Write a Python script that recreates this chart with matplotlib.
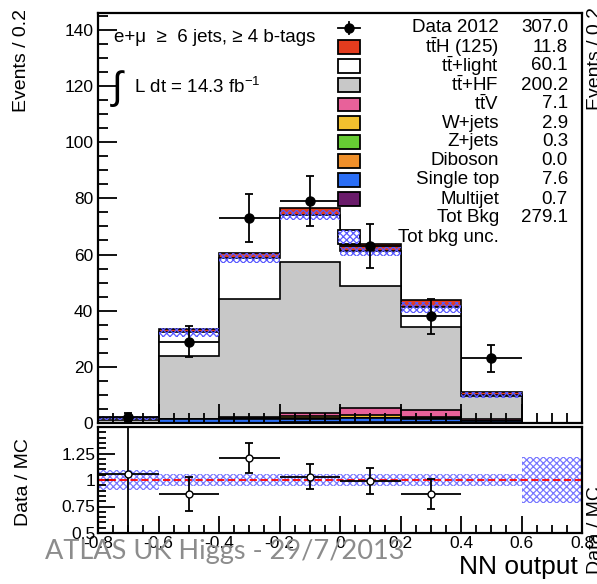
import numpy as np
import matplotlib
matplotlib.use("Agg")
import matplotlib.pyplot as plt
from matplotlib.patches import Rectangle
from matplotlib.ticker import MultipleLocator

plt.rcParams['font.family'] = ['Liberation Sans', 'DejaVu Sans']
plt.rcParams['mathtext.fontset'] = 'custom'
plt.rcParams['mathtext.rm'] = 'Liberation Sans'
plt.rcParams['mathtext.it'] = 'Liberation Sans:italic'
plt.rcParams['hatch.linewidth'] = 0.9

# NN output binning (8 bins of 0.2)
edges = np.array([-0.8, -0.6, -0.4, -0.2, 0.0, 0.2, 0.4, 0.6, 0.8])
centers = 0.5 * (edges[:-1] + edges[1:])

# observed events and their errors
data = np.array([2, 29, 73, 79, 63, 38, 23, 0])
data_err = np.array([1.4, 5.4, 8.5, 8.9, 7.9, 6.2, 4.8, 0.0])

# expected events per process
multijet = np.array([0.0, 0.0, 0.0, 0.2, 0.3, 0.2, 0.0, 0.0])
single_top = np.array([0.0, 1.4, 1.4, 1.4, 1.4, 1.4, 0.6, 0.0])
diboson = np.array([0.0, 0.0, 0.0, 0.0, 0.0, 0.0, 0.0, 0.0])
zjets = np.array([0.0, 0.0, 0.0, 0.1, 0.1, 0.1, 0.0, 0.0])
wjets = np.array([0.0, 0.0, 0.3, 0.9, 0.9, 0.6, 0.2, 0.0])
ttv = np.array([0.0, 0.1, 0.3, 0.8, 2.6, 2.5, 0.8, 0.0])
tthf = np.array([1.1, 22.4, 42.2, 53.8, 43.4, 29.3, 8.0, 0.0])
ttlight = np.array([0.7, 8.4, 14.4, 16.8, 12.4, 7.1, 0.3, 0.0])
tth = np.array([0.1, 1.2, 1.8, 2.5, 2.6, 2.6, 1.0, 0.0])

# total background uncertainty (events, and relative for the ratio)
bkg_unc = np.array([0.6, 1.6, 1.8, 1.8, 1.8, 2.0, 1.0, 0.0])
ratio_unc = np.array([0.09, 0.06, 0.06, 0.06, 0.06, 0.06, 0.06, 0.22])

legend_labels = ["Data 2012", r"$\mathrm{t\bar{t}H}$ (125)", r"$\mathrm{t\bar{t}}$+light",
                 r"$\mathrm{t\bar{t}}$+HF", r"$\mathrm{t\bar{t}V}$", "W+jets", "Z+jets",
                 "Diboson", "Single top", "Multijet", "Tot Bkg", "Tot bkg unc."]
legend_yields = [307.0, 11.8, 60.1, 200.2, 7.1, 2.9, 0.3, 0.0, 7.6, 0.7, 279.1]

# stacking order, bottom first
layers = [
    (multijet, '#6a1b6a'),
    (single_top, '#2a6ef5'),
    (diboson, '#f0902a'),
    (zjets, '#66cc33'),
    (wjets, '#f2c12e'),
    (ttv, '#e8619a'),
    (tthf, '#c8c8c8'),
    (ttlight, '#ffffff'),
    (tth, '#e33c1e'),
]
cum = np.cumsum(np.array([l[0] for l in layers]), axis=0)
total = cum[-1]
tot_bkg = total - tth

W, H = 597, 584
fig = plt.figure(figsize=(W / 100, H / 100), dpi=100)
ax = fig.add_axes([98 / W, 1 - 423 / H, 484 / W, 410 / H])
rax = fig.add_axes([98 / W, 1 - 533 / H, 484 / W, 106 / H])

# stacked histograms, drawn top level first like THStack
for k in reversed(range(len(layers))):
    ax.stairs(cum[k], edges, baseline=0, fill=True, facecolor=layers[k][1],
              edgecolor='black', linewidth=1.2)

ax.bar(centers, 2 * bkg_unc, bottom=tot_bkg - bkg_unc, width=0.2, facecolor='none',
       edgecolor='#5a5aff', hatch='xxxxx', linewidth=0)

m = data > 0
ax.errorbar(centers[m], data[m], yerr=data_err[m], fmt='o', color='black', ms=6.5,
            capsize=3, elinewidth=1.3, capthick=1.3)
ax.errorbar(centers[m], data[m], xerr=0.1, fmt='none', ecolor='black', elinewidth=1.3)

ax.set_xlim(-0.8, 0.8)
ax.set_ylim(0, 146)
ax.yaxis.set_major_locator(MultipleLocator(20))
ax.yaxis.set_minor_locator(MultipleLocator(5))
ax.xaxis.set_major_locator(MultipleLocator(0.2))
ax.xaxis.set_minor_locator(MultipleLocator(0.05))
ax.tick_params(which='major', direction='in', length=14, width=1.3, labelsize=12.5)
ax.tick_params(which='minor', direction='in', length=7, width=1.3)
ax.tick_params(axis='x', labelbottom=False)
for s in ax.spines.values():
    s.set_linewidth(1.6)

# labels in the upper-left corner
fig.text(114 / W, 1 - 38 / H, "e+\u03bc  \u2265  6 jets, \u2265 4 b-tags",
         fontsize=13.5, va='center', ha='left')
fig.text(112 / W, 1 - 89 / H, "\u222b", fontsize=28, va='center', ha='left')
fig.text(134 / W, 1 - 87 / H, r"L dt = 14.3 fb$^{\mathrm{-1}}$", fontsize=13.5, va='center', ha='left')

# legend
for i, lab in enumerate(legend_labels):
    py = 28 + 19 * i
    fy = 1 - py / H
    fig.text(499 / W, fy, lab, fontsize=13.5, ha='right', va='center')
    if i < len(legend_yields):
        fig.text(568 / W, fy, f"{legend_yields[i]:.1f}", fontsize=13.5, ha='right', va='center')
    if 1 <= i <= 9:
        fig.patches.append(Rectangle((338 / W, fy - 6.5 / H), 22 / W, 13 / H, transform=fig.transFigure,
                                     facecolor=layers[9 - i][1], edgecolor='black', linewidth=1.3))
    elif i == 11:
        fig.patches.append(Rectangle((338 / W, fy - 6.5 / H), 22 / W, 13 / H, transform=fig.transFigure,
                                     facecolor='white', edgecolor='black', linewidth=1.3))
        fig.patches.append(Rectangle((338 / W, fy - 6.5 / H), 22 / W, 13 / H, transform=fig.transFigure,
                                     facecolor='none', edgecolor='#5a5aff', hatch='xxxxx', linewidth=0))
fig.lines.append(plt.Line2D([338 / W, 360 / W], [1 - 28 / H] * 2, transform=fig.transFigure,
                            color='black', linewidth=1.3))
fig.lines.append(plt.Line2D([349 / W], [1 - 28 / H], transform=fig.transFigure,
                            color='black', marker='o', ms=6.5))
fig.lines.append(plt.Line2D([349 / W] * 2, [1 - 22 / H, 1 - 34 / H], transform=fig.transFigure,
                            color='black', linewidth=1.3))

# ratio panel
ok = total > 0
ratio = np.full(len(data), np.nan)
ratio_err = np.zeros(len(data))
ratio[ok] = data[ok] / total[ok]
ratio_err[ok] = data_err[ok] / total[ok]

rax.bar(centers, 2 * ratio_unc, bottom=1 - ratio_unc, width=0.2, facecolor='none',
        edgecolor='#7878ff', hatch='xxxxx', linewidth=0)
rax.axhline(1, color='red', linestyle=(0, (4, 2)), linewidth=1.3)
rax.errorbar(centers[ok], ratio[ok], yerr=ratio_err[ok], fmt='none', ecolor='black',
             elinewidth=1.3, capsize=3, capthick=1.3)
rax.errorbar(centers[ok], ratio[ok], xerr=0.1, fmt='o', color='black', mfc='white', ms=5,
             elinewidth=1.3)

rax.set_xlim(-0.8, 0.8)
rax.set_ylim(0.5, 1.5)
rax.yaxis.set_minor_locator(MultipleLocator(0.05))
rax.xaxis.set_minor_locator(MultipleLocator(0.05))
rax.set_yticks([0.5, 0.75, 1.0, 1.25])
rax.set_yticklabels(["0.5", "0.75", "1", "1.25"])
rax.set_xticks(np.round(edges, 1))
rax.set_xticklabels([f"{v:g}" for v in np.round(edges, 1)])
rax.tick_params(which='major', direction='in', length=12, width=1.3, labelsize=12.5, pad=2)
rax.tick_params(which='minor', direction='in', length=6, width=1.3)
for s in rax.spines.values():
    s.set_linewidth(1.6)

# axis titles
fig.text(22 / W, 1 - 9 / H, "Events / 0.2", rotation=90, fontsize=14, ha='center', va='top')
fig.text(24 / W, 1 - 482 / H, "Data / MC", rotation=90, fontsize=14, ha='center', va='center')
fig.text(578 / W, 1 - 567 / H, "NN output", fontsize=19, ha='right', va='center')
fig.text(595 / W, 1 - 58 / H, "Events / 0.2", rotation=90, fontsize=14, ha='center', va='center')
fig.text(595 / W, 1 - 530 / H, "Data / MC", rotation=90, fontsize=14, ha='center', va='center')

# slide footer
fig.text(45 / W, 1 - 552 / H, "ATLAS UK Higgs - 29/7/2013", fontsize=19.5, color='#8c8c8c',
         family=['Lato', 'DejaVu Sans'], ha='left', va='center')

fig.savefig("out.png", dpi=100)
